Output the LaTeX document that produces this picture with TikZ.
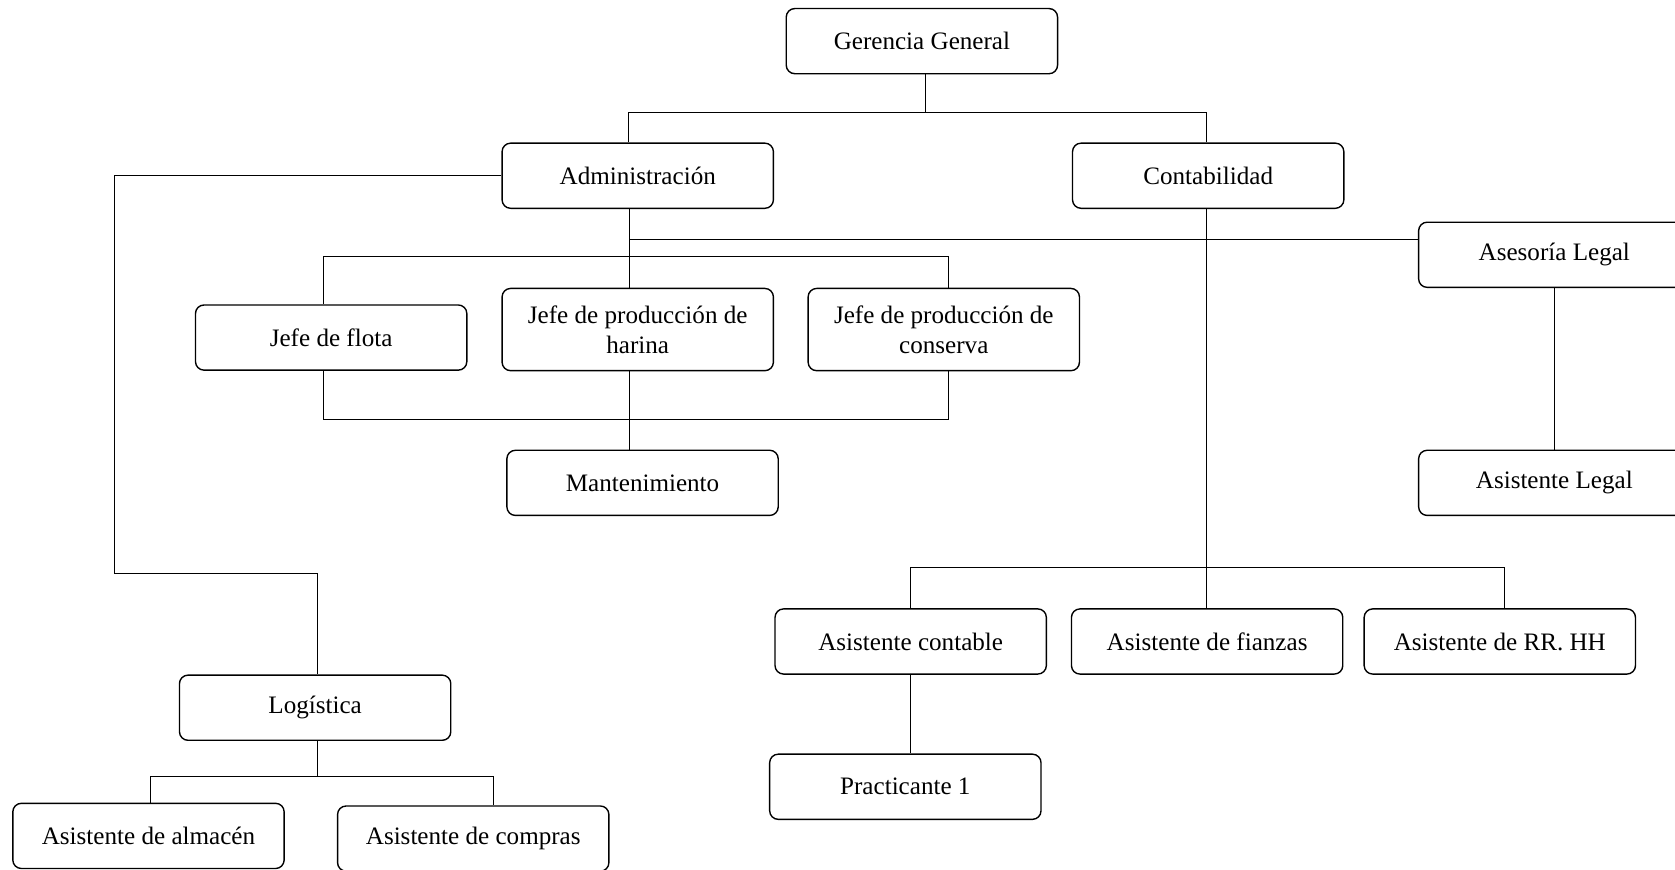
\documentclass[tikz,border=0pt]{standalone}
\usepackage{fontspec}
\setmainfont{Liberation Serif}
\usepackage{tikz}

\begin{document}
\begin{tikzpicture}[x=1pt, y=-1pt,
        puesto/.style={draw, rounded corners=8pt, line width=1.3pt, minimum width=254pt,
                       minimum height=61pt, inner sep=0pt, align=center,
                       font=\fontsize{23.5}{28}\selectfont},
        linea/.style={line width=1pt}]
        \useasboundingbox (0,0) rectangle (1568,814);
        \clip (0,0) rectangle (1568,814);

        \node[puesto] (gg) at (863, 38.5) {Gerencia General};
        \node[puesto] (adm) at (597, 164.5) {Administración};
        \node[puesto] (cont) at (1131, 164.5) {Contabilidad};
        \node[puesto] (ase) at (1455, 238.5) {Asesoría Legal};
        \node[puesto] (flota) at (310, 316) {Jefe de flota};
        \node[puesto, minimum height=77pt] (harina) at (597, 308.5) {Jefe de producción de\\harina};
        \node[puesto, minimum height=77pt] (conserva) at (883.5, 308.5) {Jefe de producción de\\conserva};
        \node[puesto] (mant) at (601.5, 452) {Mantenimiento};
        \node[puesto] (asl) at (1455, 452) {Asistente Legal};
        \node[puesto] (log) at (295, 662.5) {Logística};
        \node[puesto] (alm) at (139, 782.5) {Asistente de almacén};
        \node[puesto] (com) at (443, 785) {Asistente de compras};
        \node[puesto] (acont) at (852.5, 600.5) {Asistente contable};
        \node[puesto] (fia) at (1130, 600.5) {Asistente de fianzas};
        \node[puesto] (rrhh) at (1404, 600.5) {Asistente de RR. HH};
        \node[puesto] (prac) at (847.5, 736.5) {Practicante 1};

        % gerencia
        \coordinate (b1) at (866, 105);
        \draw[linea] ([xshift=3pt]gg.south) -- (b1);
        \draw[linea] ([xshift=-9pt]adm.north) |- (b1) -| ([xshift=-2pt]cont.north);

        % administracion
        \coordinate (a1) at (589, 224);
        \coordinate (a2) at (589, 240);
        \coordinate (a3) at (589, 393);
        \draw[linea] ([xshift=-8pt]adm.south) -- ([xshift=-8pt]harina.north);
        \draw[linea] (a1) -- (a1 -| ase.west);
        \draw[linea] ([xshift=-7pt]flota.north) |- (a2) -| ([xshift=4.5pt]conserva.north);
        \draw[linea] ([xshift=-7pt]flota.south) |- (a3) -| ([xshift=4.5pt]conserva.south);
        \draw[linea] ([xshift=-8pt]harina.south) -- ([xshift=-12.5pt]mant.north);
        \draw[linea] (ase.south) -- (asl.north);

        % logistica
        \coordinate (c1) at (107, 537);
        \coordinate (b2) at (297, 727);
        \draw[linea] (adm.west) -| (c1) -| ([xshift=2pt]log.north);
        \draw[linea] ([xshift=2pt]log.south) -- (b2);
        \draw[linea] ([xshift=2pt]alm.north) |- (b2) -| ([xshift=19pt]com.north);

        % contabilidad
        \coordinate (b3) at (1129, 531);
        \draw[linea] ([xshift=-2pt]cont.south) -- ([xshift=-1pt]fia.north);
        \draw[linea] (acont.north) |- (b3) -| ([xshift=4pt]rrhh.north);
        \draw[linea] (acont.south) -- (acont.south |- prac.north);
\end{tikzpicture}
\end{document}
